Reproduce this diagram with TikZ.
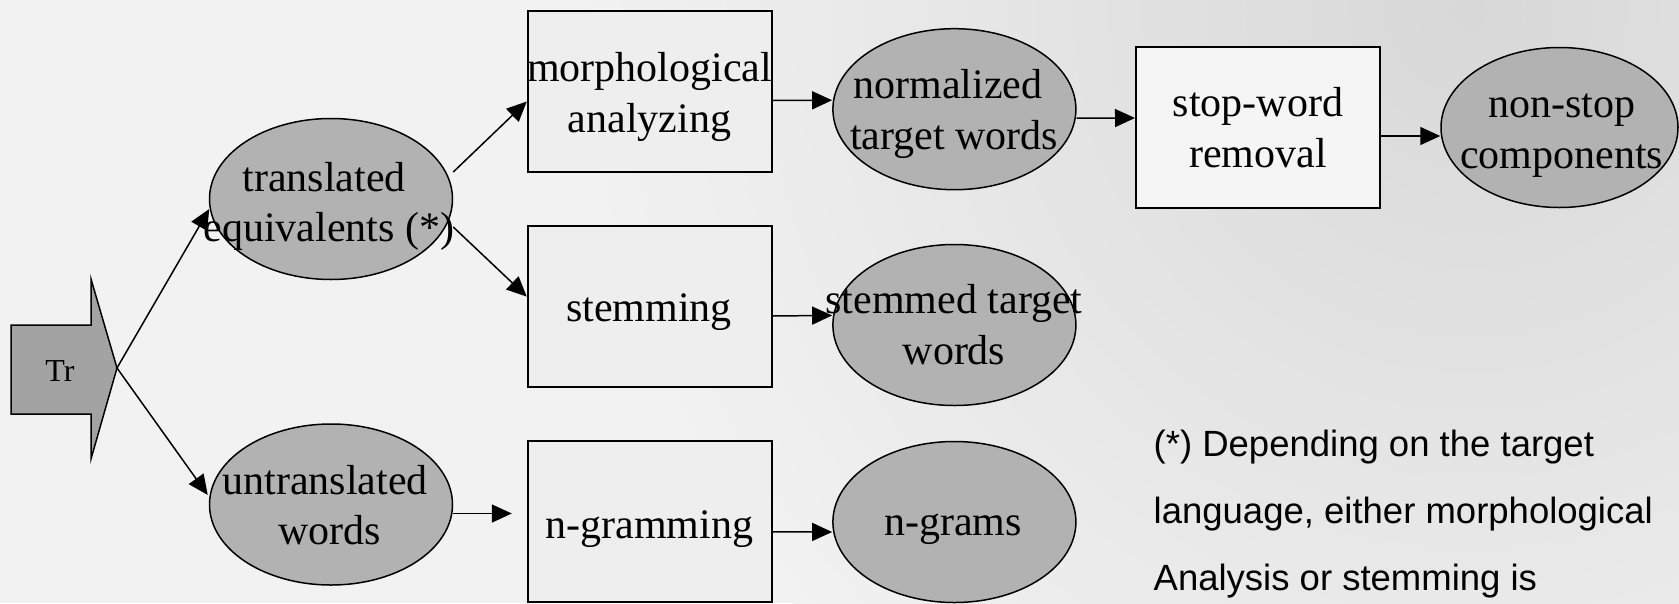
\documentclass[tikz,border=0pt]{standalone}
\usepackage{fontspec}
\setmainfont{Liberation Serif}
\newfontfamily\arialf{Liberation Sans}
\usetikzlibrary{shapes.geometric,arrows.meta,calc}
\definecolor{bgc}{HTML}{F2F2F2}
\definecolor{shadec}{HTML}{D8D8D8}
\definecolor{ellc}{HTML}{B2B2B2}
\definecolor{trc}{HTML}{A3A3A3}
\definecolor{boxc}{HTML}{EEEEEE}
\definecolor{boxw}{HTML}{F5F5F5}
\begin{document}
\begin{tikzpicture}[x=1pt,y=-1pt,
  elli/.style={ellipse,draw,fill=ellc,line width=1.5pt,minimum width=243pt,minimum height=161pt,inner sep=0pt},
  boxn/.style={rectangle,draw,fill=boxc,line width=1.8pt,minimum width=244pt,minimum height=161pt,inner sep=0pt},
  lbl/.style={font=\fontsize{42}{50.4}\selectfont,align=center,anchor=base,inner sep=0pt},
  conn/.style={line width=1.5pt,-{Triangle[length=20pt,width=18pt]}}]
\useasboundingbox (0,0) rectangle (1679,603);
\begin{scope}
  \clip (0,0) rectangle (1679,603);
  \fill[bgc] (0,0) rectangle (1679,603);
  \shade[inner color=shadec, outer color=bgc] (1470,10) circle[radius=900];
\end{scope}

% Tr arrow
\filldraw[fill=trc, line width=1.5pt] (11,325) -- (91,325) -- (91,279) -- (117,368) -- (91,459) -- (91,414) -- (11,414) -- cycle;
\coordinate (trtip) at (117,368);
\node[font=\fontsize{32}{38}\selectfont, anchor=base, inner sep=0pt] (tr) at (60,381) {Tr};

% shapes
\node[elli] (te) at (331,199) {};
\node[elli] (uw) at (331,504.5) {};
\node[boxn] (ma) at (649.7,91.5) {};
\node[boxn] (sm) at (649.7,306.6) {};
\node[boxn] (ngm) at (649.7,521.5) {};
\node[elli] (nt) at (954.4,109.2) {};
\node[elli] (st) at (954.4,325) {};
\node[elli] (ng) at (954.4,522) {};
\node[boxn,fill=boxw] (sw) at (1257.9,127.5) {};
\node[elli,minimum width=237pt,minimum height=160pt] (ns) at (1559.5,127.5) {};

% connectors
\draw[conn] (trtip) -- ($(te.west)+(0.5,10)$);
\draw[conn] (trtip) -- ($(uw.west)+(-1,-9.5)$);
\draw[conn] ($(te.east)+(0,-27)$) -- ($(ma.west)+(0,10)$);
\draw[conn] ($(te.east)+(0,28)$) -- ($(sm.west)+(0,-10)$);
\draw[conn] ($(ma.east)+(0,9)$) -- ($(nt.west)+(0,-9)$);
\draw[conn] ($(nt.east)+(0,9)$) -- ($(sw.west)+(0,-9.5)$);
\draw[conn] ($(sw.east)+(0,8.5)$) -- ($(ns.west)+(0,8.5)$);
\draw[conn] ($(sm.east)+(0,9.4)$) -- ($(st.west)+(0,-9.6)$);
\draw[conn] ($(uw.east)+(0,9)$) -- ($(ngm.west)+(-15,-8)$);
\draw[conn] ($(ngm.east)+(0,10.3)$) -- ($(ng.west)+(0,10)$);

% texts (base anchor = baseline of the last line)
\node[lbl] (tet) at (329,241.4) {translated\kern10pt\\equivalents (*)};
\node[lbl] (uwt) at (330,544.6) {untranslated\kern10pt\\words};
\node[lbl] (mat) at (649.5,132.1) {morphological\\analyzing};
\node[lbl] (smt) at (649,321.7) {stemming};
\node[lbl] (ngmt) at (649.5,538.3) {n-gramming};
\node[lbl] (ntt) at (954,149.2) {normalized\kern12pt\\target words};
\node[lbl] (stt) at (954,364.3) {stemmed target\\words};
\node[lbl] (ngt) at (953,535.8) {n-grams};
\node[lbl] (swt) at (1258,167.1) {stop-word\\removal};
\node[lbl] (nst) at (1561.5,168.2) {non-stop\\components};
\node[font=\arialf\fontsize{36.5}{67}\selectfont, align=left, anchor=base west, inner sep=0pt] (fn) at (1153.5,590)
  {(*) Depending on the target\\language, either morphological\\Analysis or stemming is};
\end{tikzpicture}
\end{document}
